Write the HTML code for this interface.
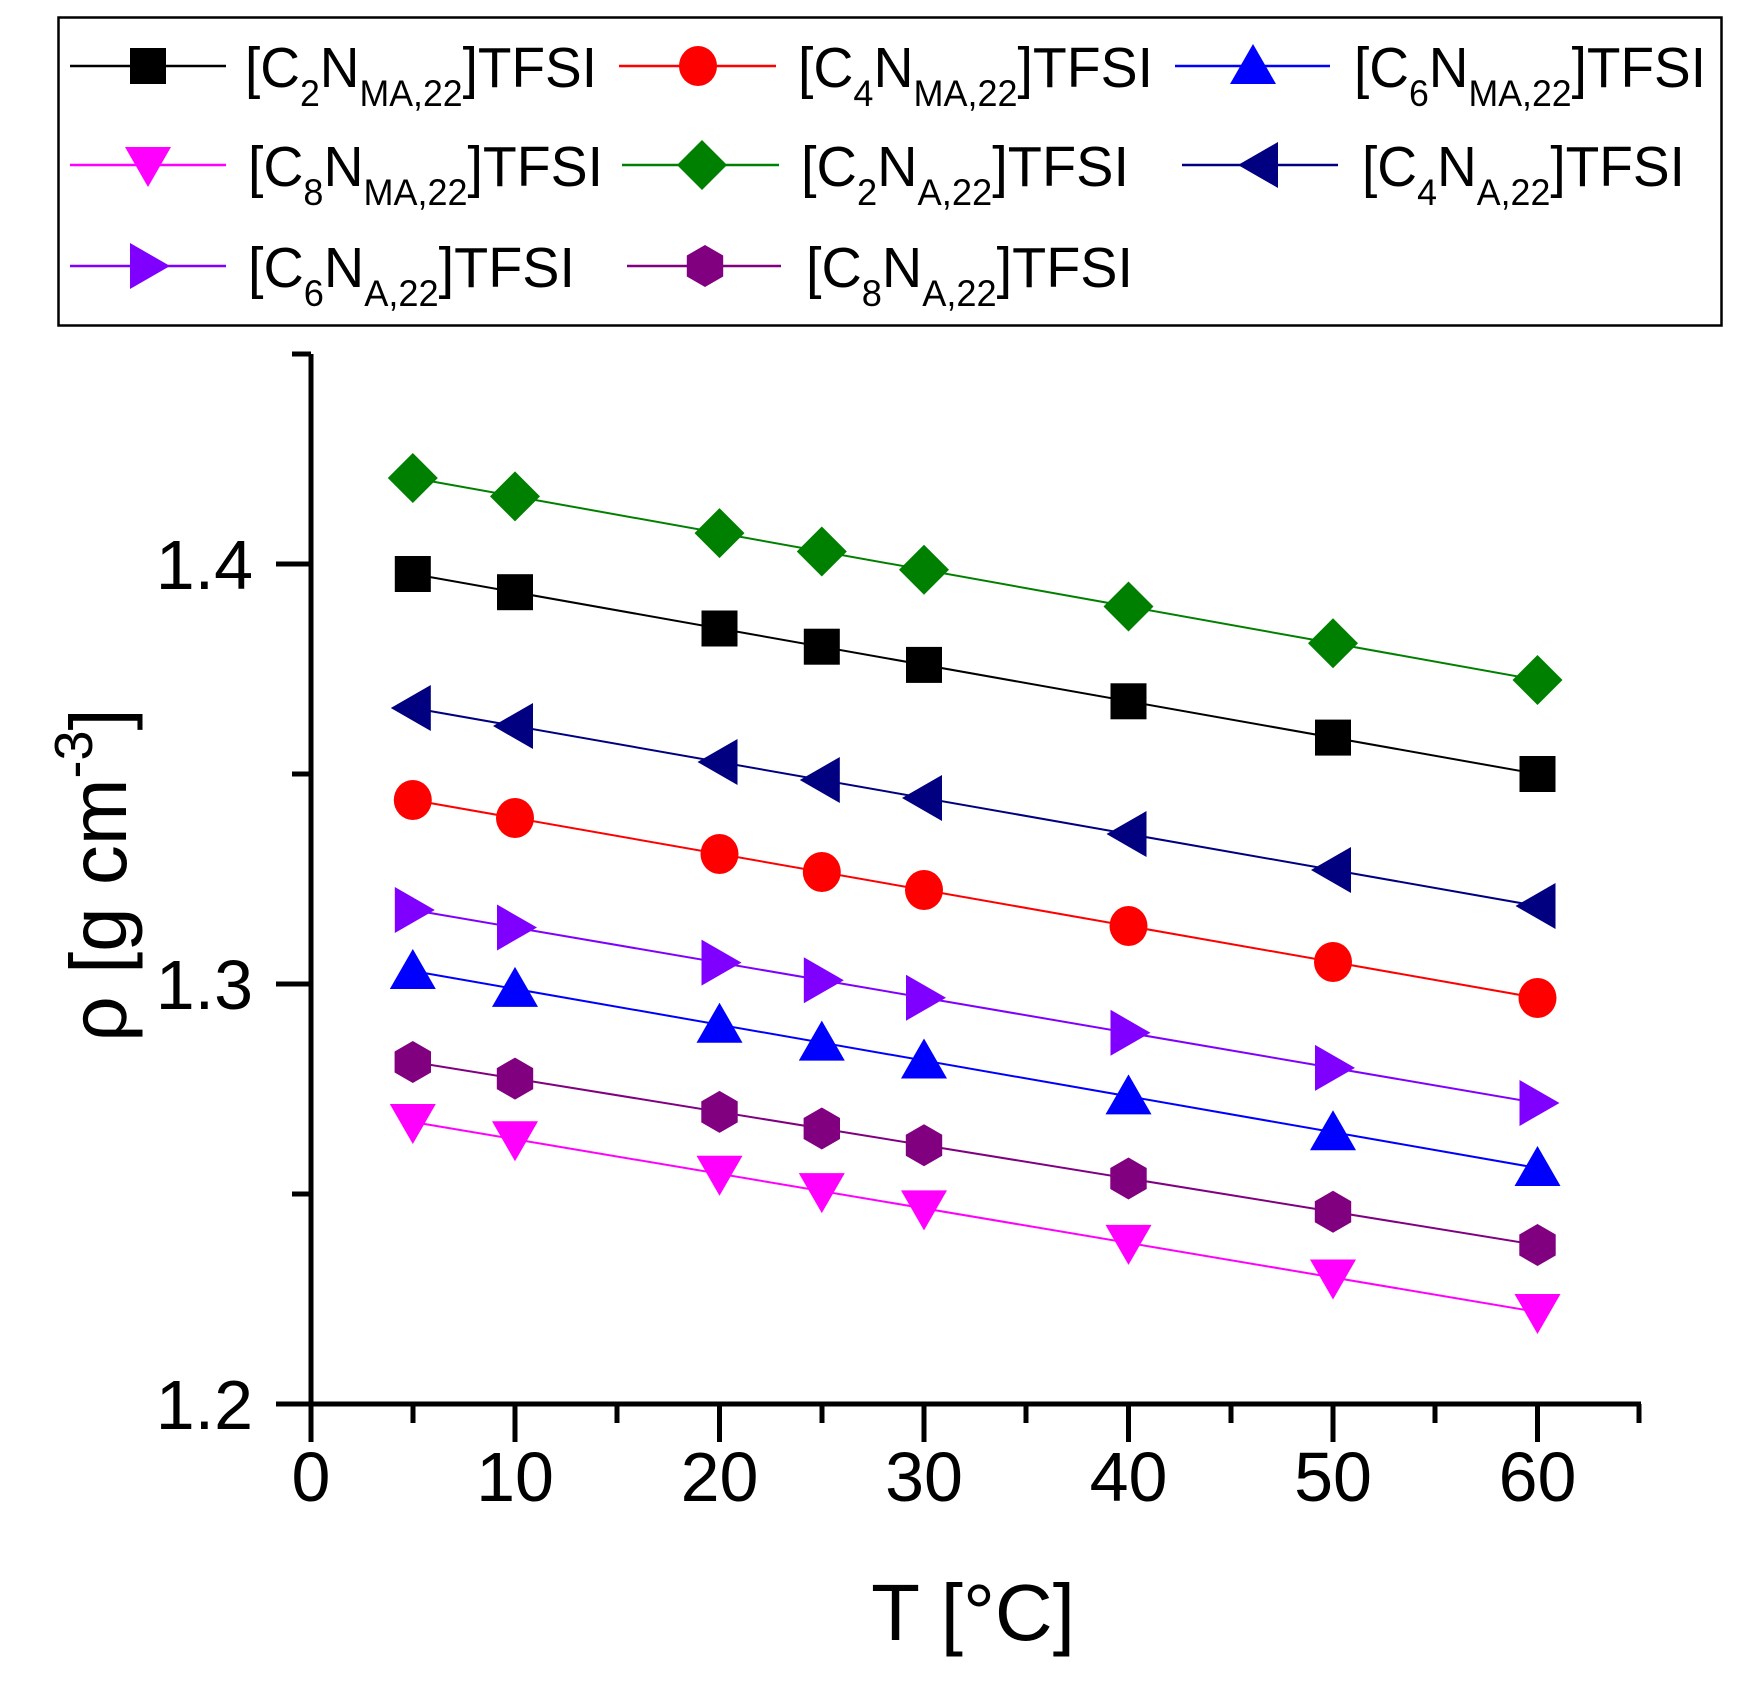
<!DOCTYPE html>
<html><head><meta charset="utf-8"><style>html,body{margin:0;padding:0;background:#fff}svg{display:block}</style></head><body>
<svg width="1750" height="1684" viewBox="0 0 1750 1684" xmlns="http://www.w3.org/2000/svg" font-family="Liberation Sans, Arial, sans-serif">
<defs>
<rect id="sq" x="-18" y="-18" width="36" height="36" fill="#000"/>
<ellipse id="ci" rx="19" ry="20" fill="#ff0000"/>
<polygon id="up" points="0,-22 23,18 -23,18" fill="#0000ff"/>
<polygon id="dn" points="-23,-18 23,-18 0,22" fill="#ff00ff"/>
<polygon id="di" points="0,-25 25,0 0,25 -25,0" fill="#008000"/>
<polygon id="lt" points="-22,0 18,-23 18,23" fill="#000080"/>
<polygon id="rt" points="22,0 -18,-23 -18,23" fill="#8000ff"/>
<polygon id="hx" points="0,-21 18.2,-10.5 18.2,10.5 0,21 -18.2,10.5 -18.2,-10.5" fill="#800080"/>
</defs>

<!-- Legend -->
<rect x="58.5" y="17.5" width="1663" height="308" fill="#fff" stroke="#000" stroke-width="2.5"/>
<g stroke-width="2.5">
<line x1="70" y1="66" x2="226" y2="66" stroke="#000"/><use href="#sq" x="148" y="66"/>
<line x1="619" y1="66" x2="776" y2="66" stroke="#ff0000"/><use href="#ci" x="698" y="66"/>
<line x1="1175" y1="66" x2="1330" y2="66" stroke="#0000ff"/><use href="#up" x="1253" y="66"/>
<line x1="70" y1="165" x2="226" y2="165" stroke="#ff00ff"/><use href="#dn" x="148" y="165"/>
<line x1="622" y1="165" x2="779" y2="165" stroke="#008000"/><use href="#di" x="702" y="165"/>
<line x1="1182" y1="165" x2="1338" y2="165" stroke="#000080"/><use href="#lt" x="1260" y="165"/>
<line x1="70" y1="266" x2="226" y2="266" stroke="#8000ff"/><use href="#rt" x="148" y="266"/>
<line x1="627" y1="266" x2="781" y2="266" stroke="#800080"/><use href="#hx" x="705" y="266"/>
</g>
<g font-size="57" fill="#000">
<text x="245" y="87" textLength="352" lengthAdjust="spacingAndGlyphs">[C<tspan font-size="37" dy="19">2</tspan><tspan dy="-19">N</tspan><tspan font-size="37" dy="19">MA,22</tspan><tspan dy="-19">]TFSI</tspan></text>
<text x="798" y="87" textLength="355" lengthAdjust="spacingAndGlyphs">[C<tspan font-size="37" dy="19">4</tspan><tspan dy="-19">N</tspan><tspan font-size="37" dy="19">MA,22</tspan><tspan dy="-19">]TFSI</tspan></text>
<text x="1354" y="87" textLength="352" lengthAdjust="spacingAndGlyphs">[C<tspan font-size="37" dy="19">6</tspan><tspan dy="-19">N</tspan><tspan font-size="37" dy="19">MA,22</tspan><tspan dy="-19">]TFSI</tspan></text>
<text x="248" y="186" textLength="355" lengthAdjust="spacingAndGlyphs">[C<tspan font-size="37" dy="19">8</tspan><tspan dy="-19">N</tspan><tspan font-size="37" dy="19">MA,22</tspan><tspan dy="-19">]TFSI</tspan></text>
<text x="801" y="186" textLength="328" lengthAdjust="spacingAndGlyphs">[C<tspan font-size="37" dy="19">2</tspan><tspan dy="-19">N</tspan><tspan font-size="37" dy="19">A,22</tspan><tspan dy="-19">]TFSI</tspan></text>
<text x="1362" y="186" textLength="323" lengthAdjust="spacingAndGlyphs">[C<tspan font-size="37" dy="19">4</tspan><tspan dy="-19">N</tspan><tspan font-size="37" dy="19">A,22</tspan><tspan dy="-19">]TFSI</tspan></text>
<text x="248" y="287" textLength="327" lengthAdjust="spacingAndGlyphs">[C<tspan font-size="37" dy="19">6</tspan><tspan dy="-19">N</tspan><tspan font-size="37" dy="19">A,22</tspan><tspan dy="-19">]TFSI</tspan></text>
<text x="806" y="287" textLength="327" lengthAdjust="spacingAndGlyphs">[C<tspan font-size="37" dy="19">8</tspan><tspan dy="-19">N</tspan><tspan font-size="37" dy="19">A,22</tspan><tspan dy="-19">]TFSI</tspan></text>
</g>

<!-- Axes -->
<g stroke="#000" stroke-width="5" fill="none">
<line x1="311" y1="354" x2="311" y2="1442"/>
<line x1="276" y1="1404" x2="1641" y2="1404"/>
<line x1="276" y1="564" x2="311" y2="564"/>
<line x1="276" y1="984" x2="311" y2="984"/>
<line x1="292" y1="774" x2="311" y2="774"/>
<line x1="292" y1="1194" x2="311" y2="1194"/>
<line x1="292" y1="354" x2="311" y2="354"/>
<line x1="515" y1="1404" x2="515" y2="1442"/>
<line x1="719.5" y1="1404" x2="719.5" y2="1442"/>
<line x1="924" y1="1404" x2="924" y2="1442"/>
<line x1="1128.5" y1="1404" x2="1128.5" y2="1442"/>
<line x1="1333" y1="1404" x2="1333" y2="1442"/>
<line x1="1537.5" y1="1404" x2="1537.5" y2="1442"/>
<line x1="413" y1="1404" x2="413" y2="1423"/>
<line x1="617" y1="1404" x2="617" y2="1423"/>
<line x1="822" y1="1404" x2="822" y2="1423"/>
<line x1="1026" y1="1404" x2="1026" y2="1423"/>
<line x1="1231" y1="1404" x2="1231" y2="1423"/>
<line x1="1435" y1="1404" x2="1435" y2="1423"/>
<line x1="1639" y1="1404" x2="1639" y2="1423"/>
</g>
<g font-size="70" fill="#000">
<text x="253" y="589" text-anchor="end">1.4</text>
<text x="253" y="1009" text-anchor="end">1.3</text>
<text x="253" y="1429" text-anchor="end">1.2</text>
</g>
<g font-size="70" fill="#000" text-anchor="middle">
<text x="311" y="1501">0</text>
<text x="515" y="1501">10</text>
<text x="719.5" y="1501">20</text>
<text x="924" y="1501">30</text>
<text x="1128.5" y="1501">40</text>
<text x="1333" y="1501">50</text>
<text x="1537.5" y="1501">60</text>
</g>
<text x="973" y="1640" font-size="80" text-anchor="middle">T [°C]</text>
<text transform="translate(126,875) rotate(-90)" font-size="80" text-anchor="middle">ρ [g cm<tspan font-size="54" dy="-34">-3</tspan><tspan dy="34">]</tspan></text>

<!-- Series lines -->
<g stroke-width="2" fill="none">
<line x1="412.8" y1="478" x2="1537.5" y2="680" stroke="#008000"/>
<line x1="412.8" y1="574" x2="1537.5" y2="774" stroke="#000"/>
<line x1="412.8" y1="708" x2="1537.5" y2="906" stroke="#000080"/>
<line x1="412.8" y1="800" x2="1537.5" y2="998" stroke="#ff0000"/>
<line x1="412.8" y1="910" x2="1537.5" y2="1103" stroke="#8000ff"/>
<line x1="412.8" y1="971" x2="1537.5" y2="1168" stroke="#0000ff"/>
<line x1="412.8" y1="1062" x2="1537.5" y2="1245" stroke="#800080"/>
<line x1="412.8" y1="1122" x2="1537.5" y2="1312" stroke="#ff00ff"/>
</g>
<!-- markers -->
<g>
<use href="#di" x="412.8" y="478"/><use href="#di" x="515" y="496.4"/><use href="#di" x="719.5" y="533.1"/><use href="#di" x="821.8" y="551.5"/><use href="#di" x="924" y="569.8"/><use href="#di" x="1128.5" y="606.5"/><use href="#di" x="1333" y="643.3"/><use href="#di" x="1537.5" y="680"/>
<use href="#sq" x="412.8" y="574"/><use href="#sq" x="515" y="592.2"/><use href="#sq" x="719.5" y="628.5"/><use href="#sq" x="821.8" y="646.7"/><use href="#sq" x="924" y="664.9"/><use href="#sq" x="1128.5" y="701.3"/><use href="#sq" x="1333" y="737.6"/><use href="#sq" x="1537.5" y="774"/>
<use href="#lt" x="412.8" y="708"/><use href="#lt" x="515" y="726"/><use href="#lt" x="719.5" y="762"/><use href="#lt" x="821.8" y="780"/><use href="#lt" x="924" y="798"/><use href="#lt" x="1128.5" y="834"/><use href="#lt" x="1333" y="870"/><use href="#lt" x="1537.5" y="906"/>
<use href="#ci" x="412.8" y="800"/><use href="#ci" x="515" y="818"/><use href="#ci" x="719.5" y="854"/><use href="#ci" x="821.8" y="872"/><use href="#ci" x="924" y="890"/><use href="#ci" x="1128.5" y="926"/><use href="#ci" x="1333" y="962"/><use href="#ci" x="1537.5" y="998"/>
<use href="#rt" x="412.8" y="910"/><use href="#rt" x="515" y="927.5"/><use href="#rt" x="719.5" y="962.6"/><use href="#rt" x="821.8" y="980.2"/><use href="#rt" x="924" y="997.7"/><use href="#rt" x="1128.5" y="1032.8"/><use href="#rt" x="1333" y="1067.9"/><use href="#rt" x="1537.5" y="1103"/>
<use href="#up" x="412.8" y="971"/><use href="#up" x="515" y="988.9"/><use href="#up" x="719.5" y="1024.7"/><use href="#up" x="821.8" y="1042.6"/><use href="#up" x="924" y="1060.5"/><use href="#up" x="1128.5" y="1096.4"/><use href="#up" x="1333" y="1132.2"/><use href="#up" x="1537.5" y="1168"/>
<use href="#hx" x="412.8" y="1062"/><use href="#hx" x="515" y="1078.6"/><use href="#hx" x="719.5" y="1111.9"/><use href="#hx" x="821.8" y="1128.5"/><use href="#hx" x="924" y="1145.2"/><use href="#hx" x="1128.5" y="1178.5"/><use href="#hx" x="1333" y="1211.7"/><use href="#hx" x="1537.5" y="1245"/>
<use href="#dn" x="412.8" y="1122"/><use href="#dn" x="515" y="1139.3"/><use href="#dn" x="719.5" y="1173.8"/><use href="#dn" x="821.8" y="1191.1"/><use href="#dn" x="924" y="1208.4"/><use href="#dn" x="1128.5" y="1242.9"/><use href="#dn" x="1333" y="1277.5"/><use href="#dn" x="1537.5" y="1312"/>
</g>
</svg>
</body></html>
